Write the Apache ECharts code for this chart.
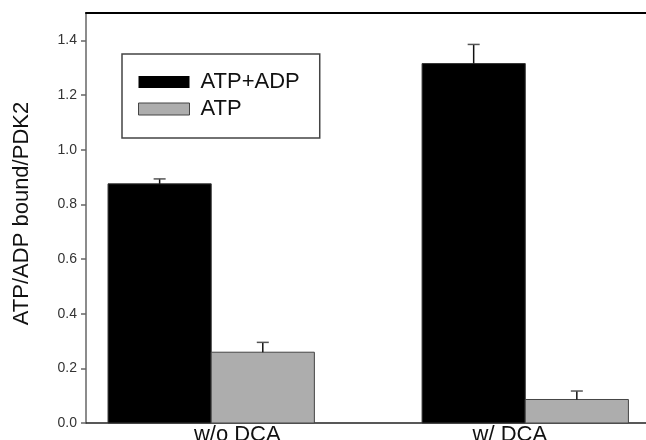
<!DOCTYPE html>
<html>
<head>
<meta charset="utf-8">
<script src="https://cdn.jsdelivr.net/npm/echarts@6/dist/echarts.min.js"></script>
<style>
html,body{margin:0;padding:0;background:#fff;}
#chart{width:646px;height:440px;}
</style>
</head>
<body>
<div id="chart"></div>
<script>
// ---- data ----
var categories = ['w/o DCA', 'w/ DCA'];
var groupPos = [1, 2];                 // bar group centres on the x scale
var labelPos = [1.083, 1.951];         // where the category labels sit on the x scale
var atpAdp = [0.875, 1.315];
var atpAdpErr = [0.018, 0.070];
var atp = [0.259, 0.086];
var atpErr = [0.036, 0.031];
var yTicks = [0, 0.2, 0.4, 0.6, 0.8, 1.0, 1.2, 1.4];

var FONT = 'Liberation Sans, Arial, Helvetica, sans-serif';
var BW = 0.3285; // bar width in x-axis units

function rows(vals, errs) {
  return groupPos.map(function (p, i) { return [p, vals[i], errs[i]]; });
}

function makeRender(side, fill, stroke) {
  return function (params, api) {
    var x = api.value(0), v = api.value(1), e = api.value(2);
    var x0 = side < 0 ? x - BW : x;
    var x1 = side < 0 ? x : x + BW;
    var bl = api.coord([x0, 0]);
    var tr = api.coord([x1, v]);
    var cx = (bl[0] + tr[0]) / 2;
    var top = api.coord([(x0 + x1) / 2, v + e]);
    return {
      type: 'group',
      children: [
        { type: 'rect',
          shape: { x: bl[0], y: tr[1], width: tr[0] - bl[0], height: bl[1] - tr[1] },
          style: { fill: fill, stroke: stroke, lineWidth: 1 } },
        { type: 'line',
          shape: { x1: cx, y1: tr[1], x2: cx, y2: top[1] },
          style: { stroke: '#111', lineWidth: 1.5 } },
        { type: 'line',
          shape: { x1: cx - 6, y1: top[1], x2: cx + 6, y2: top[1] },
          style: { stroke: '#555', lineWidth: 1.5 } }
      ]
    };
  };
}

var chart = echarts.init(document.getElementById('chart'), null, { renderer: 'canvas' });
chart.setOption({
  animation: false,
  backgroundColor: '#fff',
  grid: { left: 86, right: 0, top: 13, bottom: 17, containLabel: false, outerBoundsMode: 'none' },
  legend: {
    orient: 'vertical',
    left: 122, top: 54,
    padding: [17, 20, 18, 16],
    itemGap: 5,
    itemWidth: 51, itemHeight: 12,
    icon: 'rect',
    borderColor: '#444', borderWidth: 1.5,
    backgroundColor: '#fff',
    textStyle: { fontFamily: FONT, fontSize: 22, color: '#111', padding: [0, 0, 0, 6] },
    data: [
      { name: 'ATP+ADP', itemStyle: { color: '#000', borderColor: '#000', borderWidth: 0 } },
      { name: 'ATP', itemStyle: { color: '#adadad', borderColor: '#444', borderWidth: 1 } }
    ]
  },
  xAxis: [{
    type: 'value',
    min: 0.6013, max: 2.3845,
    splitLine: { show: false },
    axisLine: { show: true, onZero: false, lineStyle: { color: '#222', width: 1.5 } },
    axisTick: { show: false },
    axisLabel: {
      customValues: labelPos,
      margin: 1,
      fontFamily: FONT, fontSize: 22, color: '#111',
      formatter: function (v) {
        var best = 0;
        for (var i = 1; i < labelPos.length; i++) {
          if (Math.abs(labelPos[i] - v) < Math.abs(labelPos[best] - v)) best = i;
        }
        return categories[best];
      }
    }
  }, {
    type: 'value',
    position: 'top',
    min: 0.6013, max: 2.3845,
    splitLine: { show: false },
    axisLine: { show: true, onZero: false, lineStyle: { color: '#000', width: 2 } },
    axisTick: { show: false },
    axisLabel: { show: false }
  }],
  yAxis: {
    type: 'value',
    min: 0, max: 1.5,
    name: 'ATP/ADP bound/PDK2',
    nameLocation: 'middle',
    nameGap: 53,
    nameTextStyle: { fontFamily: FONT, fontSize: 22, color: '#111', padding: [0, 0, 0, 9] },
    splitLine: { show: false },
    axisLine: { show: true, onZero: false, lineStyle: { color: '#666', width: 1.5 } },
    axisTick: { show: true, length: 5, customValues: yTicks, lineStyle: { color: '#666', width: 1.5 } },
    axisLabel: {
      customValues: yTicks,
      margin: 9,
      fontFamily: FONT, fontSize: 14, color: '#333',
      formatter: function (v) { return v.toFixed(1); }
    }
  },
  series: [{
    name: 'ATP+ADP',
    type: 'custom',
    itemStyle: { color: '#000' },
    renderItem: makeRender(-1, '#000', '#333'),
    encode: { x: 0, y: [1, 2] },
    data: rows(atpAdp, atpAdpErr)
  }, {
    name: 'ATP',
    type: 'custom',
    itemStyle: { color: '#adadad' },
    renderItem: makeRender(1, '#adadad', '#444'),
    encode: { x: 0, y: [1, 2] },
    data: rows(atp, atpErr)
  }]
});
</script>
</body>
</html>
